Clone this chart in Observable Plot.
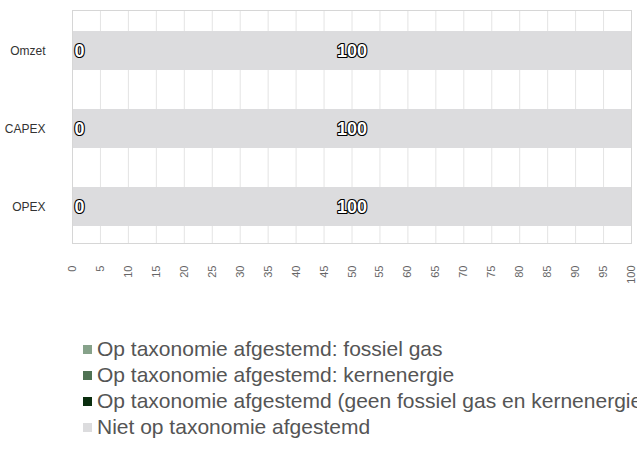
<!DOCTYPE html>
<html>
<head>
<meta charset="utf-8">
<script src="https://cdn.jsdelivr.net/npm/d3@7"></script>
<script src="https://cdn.jsdelivr.net/npm/@observablehq/plot@0.6"></script>
<style>
  body { margin: 0; background: #fff; font-family: "Liberation Sans", Arial, sans-serif; overflow: hidden; }
  #chart { width: 637px; height: 300px; }
  #legend { margin-top: 36px; padding-left: 83px; height: 125px; width: 554px; overflow: hidden; white-space: nowrap; }
  .row { height: 26px; display: flex; align-items: center; font-size: 21px; color: #555; }
  .sw { width: 9px; height: 9px; margin-right: 5px; flex: none; }
</style>
</head>
<body>
<div id="chart"></div>
<div id="legend"></div>
<script>
const categories = ["Omzet", "CAPEX", "OPEX"];
const seriesNames = [
  "Op taxonomie afgestemd: fossiel gas",
  "Op taxonomie afgestemd: kernenergie",
  "Op taxonomie afgestemd (geen fossiel gas en kernenergie)",
  "Niet op taxonomie afgestemd"
];
const seriesColors = ["#86a28a", "#4f7253", "#0a2e0f", "#dcdcde"];
const fossielGas = [0, 0, 0];
const kernenergie = [0, 0, 0];
const geenFossielKern = [0, 0, 0];
const nietAfgestemd = [100, 100, 100];
const xTicks = d3.range(0, 101, 5);

const seriesValues = [fossielGas, kernenergie, geenFossielKern, nietAfgestemd];
const rows = [];
categories.forEach((cat, i) => {
  seriesNames.forEach((s, j) => rows.push({cat, series: s, value: seriesValues[j][i]}));
});

const stackOpts = {x: "value", y: "cat", z: "series", order: seriesNames};

const plot = Plot.plot({
  width: 637,
  height: 300,
  marginLeft: 72,
  marginRight: 6,
  marginTop: 10,
  marginBottom: 57,
  style: {fontFamily: "Liberation Sans, Arial, sans-serif", background: "transparent"},
  x: {domain: [0, 100]},
  y: {domain: categories, paddingInner: 0.5, paddingOuter: 0.234, align: 0.544},
  color: {domain: seriesNames, range: seriesColors},
  marks: [
    Plot.gridX(xTicks, {stroke: "#e4e4e4", strokeOpacity: 1}),
    Plot.barX(rows, Plot.stackX({...stackOpts, fill: "series"})),
    Plot.frame({stroke: "#d6d6d6"}),
    Plot.axisX({ticks: xTicks, tickSize: 0, tickRotate: -90, tickPadding: 22, fontSize: 11, color: "#666", label: null}),
    Plot.axisY({tickSize: 0, tickPadding: 27, fontSize: 12, color: "#333", label: null}),
    Plot.text(rows, Plot.stackX({...stackOpts, text: d => String(d.value),
      filter: d => d.series === seriesNames[2], x: "value",
      textAnchor: "start", dx: 2, fontSize: 18, fontWeight: "bold",
      fill: "white", stroke: "black", strokeWidth: 2.2})),
    Plot.text(rows, Plot.stackX({...stackOpts, text: d => String(d.value),
      filter: d => d.series === seriesNames[3],
      fontSize: 18, fontWeight: "bold",
      fill: "white", stroke: "black", strokeWidth: 2.2}))
  ]
});
document.getElementById("chart").append(plot);

const legend = document.getElementById("legend");
seriesNames.forEach((s, i) => {
  const r = document.createElement("div");
  r.className = "row";
  const sw = document.createElement("span");
  sw.className = "sw";
  sw.style.background = seriesColors[i];
  r.append(sw, document.createTextNode(s));
  legend.append(r);
});
</script>
</body>
</html>
